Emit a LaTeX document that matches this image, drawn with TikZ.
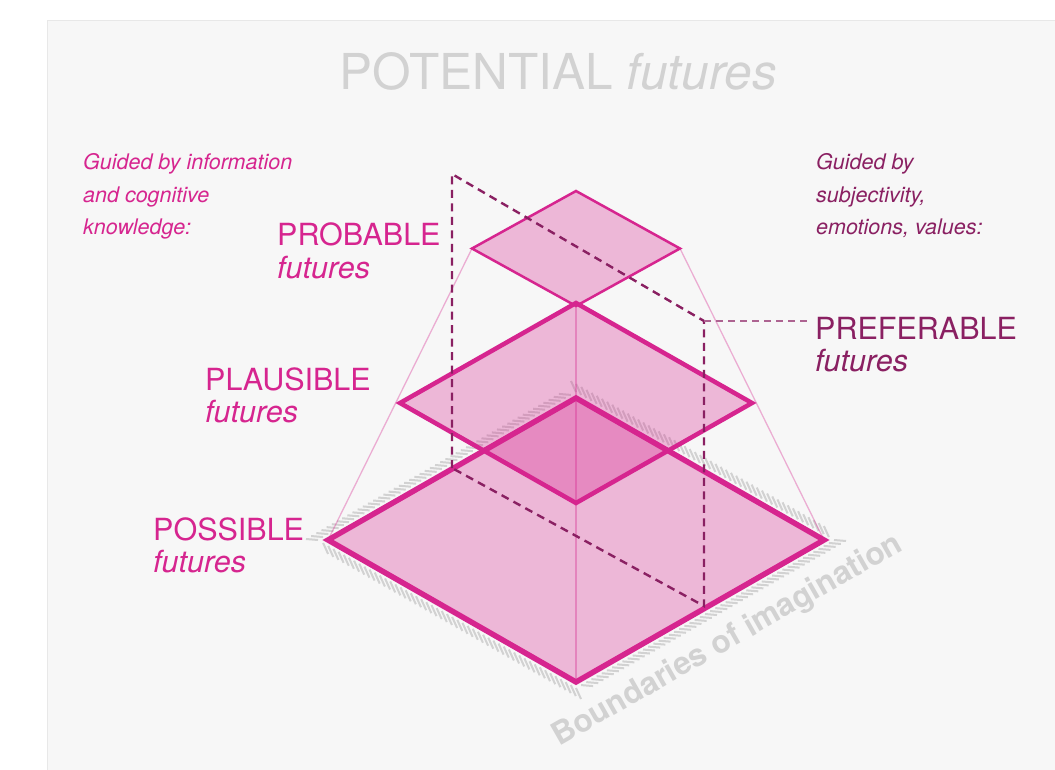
\documentclass[tikz,border=0pt]{standalone}
\usepackage{fontspec}
\setmainfont{TeX Gyre Heros}
\usetikzlibrary{calc}
\definecolor{futpink}{RGB}{214,37,143}
\definecolor{futplum}{RGB}{138,32,98}
\definecolor{futgray}{RGB}{210,210,210}
\definecolor{panelgray}{RGB}{247,247,247}

\begin{document}
\begin{tikzpicture}[
        x=1pt,y=-1pt,
        lvlline/.style={line join=miter,draw=futpink},
        futlevel/.style={lvlline,line width=#1,fill=futpink,fill opacity=0.3},
        futlevel/.default={5pt},
        edgeline/.style={line width=1.3pt,draw=futpink,draw opacity=0.35},
        prefline/.style={line width=2.4pt,draw=futplum,dash pattern=on 8pt off 5.5pt},
        prefleader/.style={line width=1.2pt,draw=futplum!70,dash pattern=on 7pt off 5pt},
        hatchline/.style={line width=2pt,draw=futgray},
        lbl/.style 2 args={text=#1,font={\fontsize{#2}{#2}\selectfont},inner sep=0pt,anchor=base west},
        lbl/.default={futpink}{30.5},
      ]
      % Panel
      \useasboundingbox (0,0) rectangle (1055,770);
      \fill[white] (0,0) rectangle (1055,770);
      \fill[panelgray] (47,20) rectangle (1055,770);
      \draw[line width=1.5pt,draw=futgray!50] (47.5,770) |- (1055,20.5);
      % Corners of the three levels and of the hatched boundary
      \foreach \n/\cy/\hw/\hh in {poss/540/248/142,plau/403/176/100,prob/248.5/104/57.5,bound/540/258/148}{
        \coordinate (\n-t) at (576,\cy-\hh);
        \coordinate (\n-r) at (576+\hw,\cy);
        \coordinate (\n-b) at (576,\cy+\hh);
        \coordinate (\n-l) at (576-\hw,\cy);
      }
      % Boundaries of imagination
      \foreach \a/\b/\dx/\dy in {bound-l/bound-t/-12/-1,bound-t/bound-r/-5/-11,bound-r/bound-b/12/1,bound-b/bound-l/5/11}{
        \foreach \t in {0,0.02,...,1}
          \draw[hatchline] ($(\a)!\t!(\b)$) -- ++(\dx,\dy);
      }
      \node[lbl={futgray}{31.5},anchor=base,rotate=29.7] (bound-lbl) at (732,648) {\bfseries Boundaries of imagination};
      % Levels, bottom up so the upper ones lie on top
      \foreach \n/\w in {poss/5.5pt,plau/4.5pt,prob/2.5pt}
        \draw[futlevel=\w] (\n-l) -- (\n-t) -- (\n-r) -- (\n-b) -- cycle;
      \draw[edgeline] (prob-l) -- (poss-l);
      \draw[edgeline] (prob-r) -- (poss-r);
      \draw[edgeline] (plau-t) -- (poss-b);
      % Preferable plane
      \coordinate (pref-tl) at (452,174);
      \coordinate (pref-tr) at (704,321);
      \coordinate (pref-br) at (704,606);
      \coordinate (pref-bl) at (452,468);
      \draw[prefline] (pref-bl) -- (pref-tl) -- (pref-tr) -- (pref-br) -- cycle;
      % Labels
      \node[lbl={futgray}{49.5},anchor=base] (title) at (558.5,90) {POTENTIAL \textit{futures}};
      \foreach \n/\txt/\x/\y in {prob/PROBABLE/277/246,plau/PLAUSIBLE/205/390,poss/POSSIBLE/153/540}{
        \node[lbl] (\n-lbl) at (\x,\y) {\txt};
        \node[lbl] (\n-fut) at (\x,\y+32) {\textit{futures}};
      }
      \node[lbl={futplum}{30.5}] (pref-lbl) at (815,339) {PREFERABLE};
      \node[lbl={futplum}{30.5}] (pref-fut) at (815,371) {\textit{futures}};
      \draw[prefleader] (pref-tr) -- ([xshift=-7pt]pref-tr -| pref-lbl.west);
      \foreach \txt [count=\i] in {Guided by information,and cognitive,knowledge:}
        \node[lbl={futpink}{21.5}] (info-\i) at (83,137.5+32.5*\i) {\textit{\txt}};
      \foreach \txt [count=\i] in {Guided by,{subjectivity,},{emotions, values:}}
        \node[lbl={futplum}{21.5}] (value-\i) at (816,137.5+32.5*\i) {\textit{\txt}};
    \end{tikzpicture}
\end{document}
